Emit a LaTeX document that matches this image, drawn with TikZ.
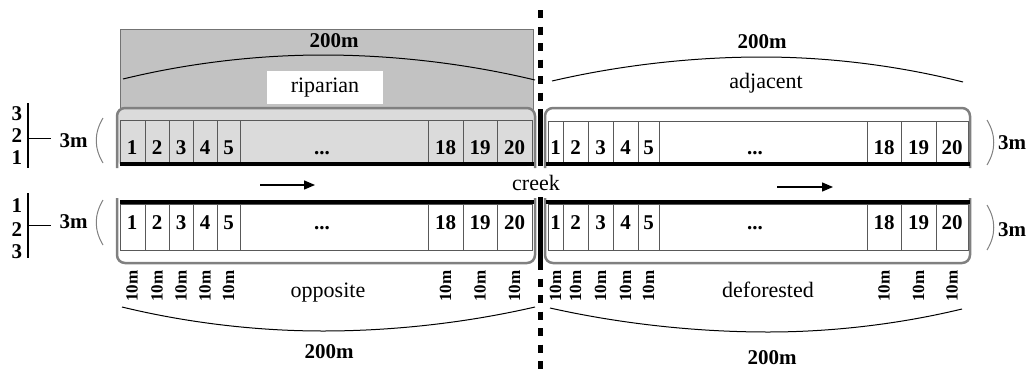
\documentclass[tikz,border=0pt]{standalone}
\usepackage{fontspec}
\setmainfont{Liberation Serif}
\usetikzlibrary{arrows.meta}
\definecolor{rectgray}{gray}{0.76}
\definecolor{lightgray2}{gray}{0.86}
\definecolor{boxgray}{gray}{0.5}
\definecolor{cellline}{gray}{0.35}
\definecolor{rectline}{gray}{0.45}
\tikzset{
  num/.style={font=\fontsize{21}{23}\selectfont\bfseries, anchor=base, inner sep=0pt},
  lbl/.style={font=\fontsize{22}{24}\selectfont, anchor=base, inner sep=0pt},
  tenm/.style={font=\fontsize{17}{18}\selectfont\bfseries, rotate=90, inner sep=0pt},
  bracket/.style={draw=boxgray, line width=2.5pt, rounded corners=8pt},
  bar/.style={line width=4pt, black},
  cell/.style={draw=cellline, line width=0.9pt},
  dim/.style={line width=1pt, black},
  paren/.style={draw=gray, line width=1pt},
  creekline/.style={line width=5pt, black},
  creekdash/.style={line width=5pt, black, dash pattern=on 8pt off 8.5pt},
  flow/.style={line width=1.3pt, -{Triangle[length=11pt,width=9pt]}},
}
\begin{document}
\begin{tikzpicture}[x=1pt,y=-1pt]
\useasboundingbox (0,0) rectangle (1030,370);

% shaded riparian area
\filldraw[fill=rectgray, draw=rectline, line width=0.8pt] (120,29) rectangle (533,114);
\fill[lightgray2, rounded corners=8pt] (117,166) -- (117,108) -- (535,108) -- (535,166) -- cycle;

% upper-left cells
\draw[cell] (120,120) rectangle (532,163);
\foreach \x in {145,169,193,217,240,428,463,497} \draw[cell] (\x,120) -- (\x,163);
% upper-right cells
\draw[cell, fill=white] (548,121) rectangle (968,163);
\foreach \x in {563,588,613,638,659,867,901,936} \draw[cell] (\x,121) -- (\x,163);
% lower-left cells
\draw[cell] (120,204) rectangle (532,250);
\foreach \x in {145,169,193,217,240,428,463,497} \draw[cell] (\x,204) -- (\x,250);
% lower-right cells
\draw[cell] (548,204) rectangle (968,250);
\foreach \x in {563,588,613,638,659,867,901,936} \draw[cell] (\x,204) -- (\x,250);

% brackets (grouping boxes)
\draw[bracket] (117,168) -- (117,108) -- (535,108) -- (535,168);
\draw[bracket] (545,168) -- (545,108) -- (970,108) -- (970,168);
\draw[bracket] (117,198) -- (117,263) -- (535,263) -- (535,198);
\draw[bracket] (545,198) -- (545,263) -- (970,263) -- (970,198);

% creek banks
\draw[bar] (120,164) -- (534,164);
\draw[bar] (546,164) -- (970,164);
\draw[bar] (120,202) -- (534,202);
\draw[bar] (546,202) -- (970,202);

% creek centre line
\draw[creekdash] (540,10) -- (540,112);
\draw[creekline] (540,112) -- (540,166);
\draw[creekline] (540,197) -- (540,262);
\draw[creekdash] (540,262) -- (540,370);

% flow arrows
\coordinate (f1s) at (260,185);
\coordinate (f1e) at (315,185);
\coordinate (f2s) at (777,187);
\coordinate (f2e) at (833,187);
\draw[flow] (f1s) -- (f1e);
\draw[flow] (f2s) -- (f2e);
\node[lbl] (creek) at (536,190) {creek};

% riparian label
\node[fill=white, minimum width=116pt, minimum height=33pt, inner sep=0pt] (ripbox) at (325,87.5) {};
\node[lbl] (riparian) at (325,92) {riparian};
\node[lbl] (adjacent) at (766,88) {adjacent};
\node[lbl] (opposite) at (328,297) {opposite};
\node[lbl] (deforested) at (768,297) {deforested};

% 200m dimension arcs
\draw[dim] (123,79) parabola bend (323,55) (535,80);
\draw[dim] (552,81) parabola bend (762,57) (963,82);
\draw[dim] (122,307) parabola bend (323,331) (535,307);
\draw[dim] (550,308) parabola bend (768,332) (962,309);
\node[num] (d1) at (334,47) {200m};
\node[num] (d2) at (762,48) {200m};
\node[num] (d3) at (329,358) {200m};
\node[num] (d4) at (772,364) {200m};

% cell numbers and 10m labels
\foreach \x/\t [count=\i] in {132/1,157/2,181/3,205/4,228.5/5,445.5/18,480/19,514.5/20} {
  \node[num] (ul\i) at (\x,154) {\t};
  \node[num] (ll\i) at (\x,229) {\t};
  \node[tenm] (tl\i) at (\x,286) {10m};
}
\foreach \x/\t [count=\i] in {555.5/1,575.5/2,600.5/3,625.5/4,648.5/5,884/18,918.5/19,952/20} {
  \node[num] (ur\i) at (\x,154) {\t};
  \node[num] (lr\i) at (\x,229) {\t};
  \node[tenm] (tr\i) at (\x,286) {10m};
}
\node[num] (dul) at (322,154) {...};
\node[num] (dur) at (755,154) {...};
\node[num] (dll) at (322,229) {...};
\node[num] (dlr) at (755,229) {...};

% left depth scales
\node[num] (s3u) at (17,120) {3};
\node[num] (s2u) at (17,142) {2};
\node[num] (s1u) at (17,164) {1};
\node[num] (s1l) at (17,212) {1};
\node[num] (s2l) at (17,236) {2};
\node[num] (s3l) at (17,258) {3};
\draw[dim, line width=1.2pt] (28,103) -- (28,168);
\draw[dim, line width=1.2pt] (28,193) -- (28,258);
\coordinate (hu) at (28,138);
\coordinate (hue) at (51,138);
\coordinate (hl) at (28,225);
\coordinate (hle) at (51,225);
\draw[dim] (hu) -- (hue);
\draw[dim] (hl) -- (hle);
\node[num] (m3ul) at (73.5,147) {3m};
\node[num] (m3ll) at (73.5,228) {3m};
\node[num] (m3ur) at (1012,149) {3m};
\node[num] (m3lr) at (1012,236) {3m};

% width parentheses
\draw[paren] (103,118) .. controls (94,133) and (94,148) .. (103,163);
\draw[paren] (103,200) .. controls (94,215) and (94,230) .. (103,245);
\draw[paren] (987,120) .. controls (996,135) and (996,150) .. (987,165);
\draw[paren] (987,205) .. controls (996,220) and (996,235) .. (987,250);
\end{tikzpicture}
\end{document}
